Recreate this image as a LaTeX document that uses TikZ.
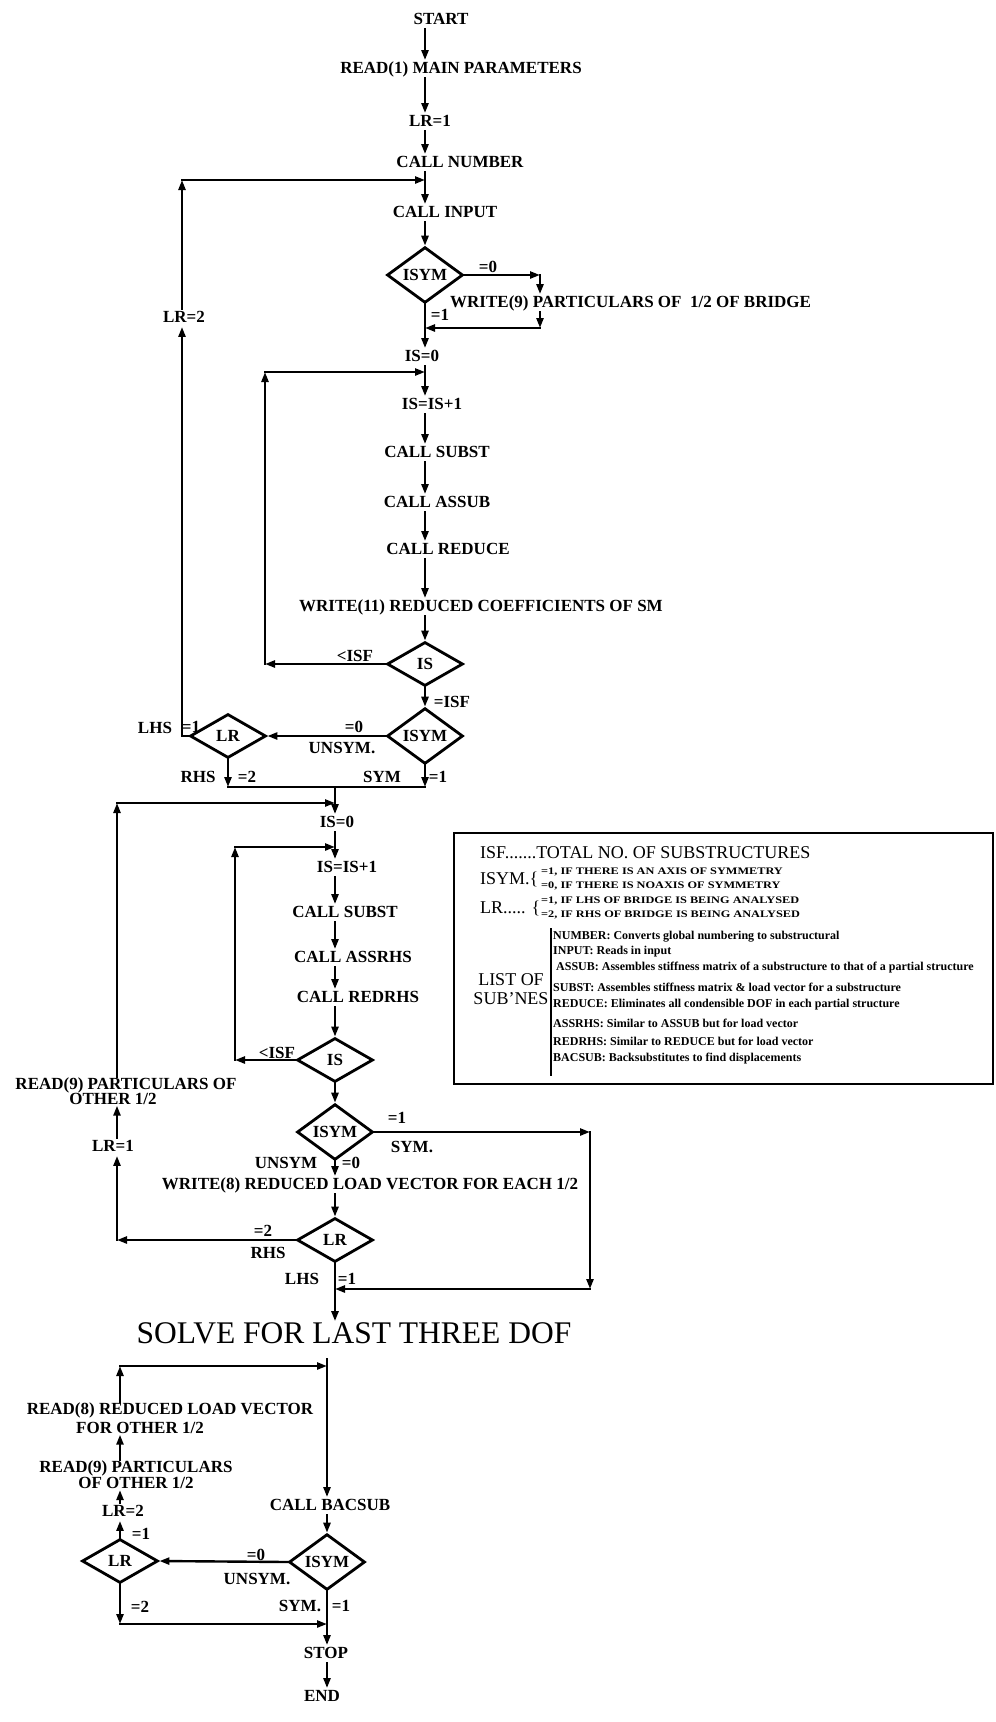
\documentclass[tikz,border=0pt]{standalone}
\usepackage{fontspec}
\setmainfont{Liberation Serif}
\newfontfamily\widefont[FakeStretch=1.23]{Liberation Serif}
\usepackage{tikz}
\usetikzlibrary{arrows.meta,positioning,shapes.geometric}
\newcommand{\chartfont}{\fontsize{17}{19}\selectfont\bfseries}
\tikzset{
	arrow/.style={-{Triangle[length=10pt,width=7pt]}, line width=2.4pt, line cap=rect},
	wire/.style={line width=2.4pt, line cap=rect},
	tag/.style={font=\chartfont, inner sep=1pt}
}

\begin{document}
\begin{tikzpicture}[
	x=1pt, y=-1pt,
	flow/.style={font=\chartfont, inner sep=1pt, text height=12pt, text depth=3.5pt},
	flowpair/.style={align=center, inner sep=1pt},
	decision/.style={draw, diamond, line width=2.8pt, minimum width=76pt,
		minimum height=44pt, inner sep=0pt, font=\chartfont},
	legendhead/.style={font=\fontsize{18}{19}\selectfont, inner sep=0pt},
	legendtiny/.style={font=\fontsize{12}{13}\selectfont\bfseries, inner sep=0pt},
	legenddef/.style={font=\widefont\fontsize{10}{11}\selectfont\bfseries, inner sep=0pt},
	]
	
	\path[use as bounding box, fill=white] (0,0) rectangle (996,1722);
	
	%% ── First pass: trunk nodes ─────────────────────────────────────
	\coordinate (T1) at (425,0);
	\node[flow] (start) at (441,20) {START};
	\node[flow] (readmain) at (461,69) {READ(1) MAIN PARAMETERS};
	\node[flow] (lrset) at (430,122) {LR=1};
	\node[flow] (callnum) at (460,163) {CALL NUMBER};
	\node[flow] (callinp) at (445,213) {CALL INPUT};
	\node[decision] (symA) at (425,275) {ISYM};
	\node[flow, anchor=west] (writenine) at (449,303)
	{WRITE(9) PARTICULARS OF\ \ 1/2 OF BRIDGE};
	\node[flow] (iszeroA) at (422,357) {IS=0};
	\node[flow] (isincA) at (432,405) {IS=IS+1};
	\node[flow] (substA) at (437,453) {CALL SUBST};
	\node[flow] (assub) at (437,503) {CALL ASSUB};
	\node[flow] (reduce) at (448,550) {CALL REDUCE};
	\node[flow] (writeeleven) at (481,607) {WRITE(11) REDUCED COEFFICIENTS OF SM};
	\node[decision] (isA) at (425,664) {IS};
	\node[decision] (symB) at (425,736) {ISYM};
	\node[decision] (lrA) at (228,736) {LR};
	\node[flow] (lrtwo) at (184,318) {LR=2};
	
	%% ── First pass: branch labels ───────────────────────────────────
	\node[tag] (symA-zero) at (488,267) {=0};
	\node[tag] (symA-one) at (440,315) {=1};
	\node[tag] (isA-less) at (355,656) {<ISF};
	\node[tag] (isA-eq) at (452,702) {=ISF};
	\node[tag] (symB-zero) at (354,727) {=0};
	\node[tag] (symB-unsym) at (342,748) {UNSYM.};
	\node[tag] (lrA-lhs) at (155,728) {LHS};
	\node[tag] (lrA-one) at (191,727) {=1};
	\node[tag] (lrA-rhs) at (198,777) {RHS};
	\node[tag] (lrA-two) at (247,777) {=2};
	\node[tag] (symB-sym) at (382,777) {SYM};
	\node[tag] (symB-one) at (438,777) {=1};
	
	%% ── First pass: connectors ──────────────────────────────────────
	\draw[arrow] (start.south -| T1) -- (readmain.north -| T1);
	\draw[arrow] (readmain.south -| T1) -- (lrset.north -| T1);
	\draw[arrow] (lrset.south -| T1) -- (callnum.north -| T1);
	\draw[arrow] (callnum.south -| T1) -- (callinp.north -| T1);
	\draw[arrow] (callinp.south -| T1) -- (symA.north);
	
	\coordinate (byA) at (540,275);
	\coordinate (byB) at (540,328);
	\draw[arrow] (symA.east) -- (byA);
	\draw[arrow] (byA) -- (byA |- writenine.north);
	\draw[arrow] (byA |- writenine.south) -- (byB);
	\draw[arrow] (byB) -- (byB -| T1);
	
	\draw[arrow] (symA.south) -- (iszeroA.north -| T1);
	\draw[arrow] (iszeroA.south -| T1) -- (isincA.north -| T1);
	\draw[arrow] (isincA.south -| T1) -- (substA.north -| T1);
	\draw[arrow] (substA.south -| T1) -- (assub.north -| T1);
	\draw[arrow] (assub.south -| T1) -- (reduce.north -| T1);
	\draw[arrow] (reduce.south -| T1) -- (writeeleven.north -| T1);
	\draw[arrow] (writeeleven.south -| T1) -- (isA.north);
	
	\coordinate (innerA) at (265,372);
	\draw[arrow] (isA.west) -- (isA.west -| innerA);
	\draw[arrow] (isA.west -| innerA) -- (innerA);
	\draw[arrow] (innerA) -- (innerA -| T1);
	
	\draw[arrow] (isA.south) -- (symB.north);
	\draw[arrow] (symB.west) -- (lrA.east);
	
	\coordinate (outerA) at (182,180);
	\draw[wire] (lrA.west) -- (lrA.west -| outerA);
	\draw[arrow] (lrA.west -| outerA) -- (lrtwo.south -| outerA);
	\draw[arrow] (lrtwo.north -| outerA) -- (outerA);
	\draw[arrow] (outerA) -- (outerA -| T1);
	
	\coordinate (mergeA) at (0,787);
	\draw[arrow] (lrA.south) -- (lrA.south |- mergeA);
	\draw[arrow] (symB.south) -- (symB.south |- mergeA);
	\draw[wire] (lrA.south |- mergeA) -- (symB.south |- mergeA);
	
	%% ── Second pass: load vector ────────────────────────────────────
	\coordinate (T2) at (335,0);
	\node[flow] (iszeroB) at (337,823) {IS=0};
	\node[flow] (isincB) at (347,868) {IS=IS+1};
	\node[flow] (substB) at (345,913) {CALL SUBST};
	\node[flow] (assrhs) at (353,958) {CALL ASSRHS};
	\node[flow] (redrhs) at (358,998) {CALL REDRHS};
	\node[decision] (isB) at (335,1060) {IS};
	\node[decision] (symC) at (335,1132) {ISYM};
	\node[flow] (writeeight) at (370,1185) {WRITE(8) REDUCED LOAD VECTOR FOR EACH 1/2};
	\node[decision] (lrB) at (335,1240) {LR};
	\node[flowpair, font=\fontsize{17}{15}\selectfont\bfseries] (readnine) at (126,1091)
	{READ(9) PARTICULARS OF\\OTHER 1/2\hspace*{26pt}};
	\node[flow] (lrsetB) at (113,1147) {LR=1};
	
	\node[tag] (isB-less) at (277,1053) {<ISF};
	\node[tag] (symC-one) at (397,1118) {=1};
	\node[tag] (symC-sym) at (412,1147) {SYM.};
	\node[tag] (symC-unsym) at (286,1163) {UNSYM};
	\node[tag] (symC-zero) at (351,1163) {=0};
	\node[tag] (lrB-two) at (263,1231) {=2};
	\node[tag] (lrB-rhs) at (268,1253) {RHS};
	\node[tag] (lrB-lhs) at (302,1279) {LHS};
	\node[tag] (lrB-one) at (347,1279) {=1};
	
	\node[font=\fontsize{31.5}{34}\selectfont, inner sep=1pt] (solve) at (354,1333)
	{SOLVE FOR LAST THREE DOF};
	
	\draw[arrow] (T2 |- mergeA) -- (iszeroB.north -| T2);
	\draw[arrow] (iszeroB.south -| T2) -- (isincB.north -| T2);
	\draw[arrow] (isincB.south -| T2) -- (substB.north -| T2);
	\draw[arrow] (substB.south -| T2) -- (assrhs.north -| T2);
	\draw[arrow] (assrhs.south -| T2) -- (redrhs.north -| T2);
	\draw[arrow] (redrhs.south -| T2) -- (isB.north);
	
	\coordinate (innerB) at (235,847);
	\draw[arrow] (isB.west) -- (isB.west -| innerB);
	\draw[arrow] (isB.west -| innerB) -- (innerB);
	\draw[arrow] (innerB) -- (innerB -| T2);
	
	\draw[arrow] (isB.south) -- (symC.north);
	\coordinate (byC) at (590,1132);
	\coordinate (byD) at (590,1289);
	\draw[arrow] (symC.east) -- (byC);
	\draw[arrow] (byC) -- (byD);
	\draw[arrow] (byD) -- (byD -| T2);
	\draw[arrow] (symC.south) -- (writeeight.north -| T2);
	\draw[arrow] (writeeight.south -| T2) -- (lrB.north);
	
	\coordinate (outerB) at (117,803);
	\draw[arrow] (lrB.west) -- (lrB.west -| outerB);
	\draw[arrow] (lrB.west -| outerB) -- (lrsetB.south -| outerB);
	\draw[arrow] (lrsetB.north -| outerB) -- (readnine.south -| outerB);
	\draw[arrow] (readnine.north -| outerB) -- (outerB);
	\draw[arrow] (outerB) -- (outerB -| T2);
	\draw[arrow] (lrB.south) -- (solve.north -| T2);
	
	%% ── Back substitution ───────────────────────────────────────────
	\coordinate (T3) at (327,0);
	\coordinate (T4) at (120,0);
	\node[flowpair, font=\fontsize{17}{19}\selectfont\bfseries] (readeight) at (170,1418)
	{READ(8) REDUCED LOAD VECTOR\\FOR OTHER 1/2\hspace*{60pt}};
	\node[flowpair, font=\fontsize{17}{14}\selectfont\bfseries] (readnineB) at (136,1475)
	{READ(9) PARTICULARS\\OF OTHER 1/2};
	\node[flow] (lrsetC) at (123,1512) {LR=2};
	\node[flow] (bacsub) at (330,1506) {CALL BACSUB};
	\node[decision] (symD) at (327,1562) {ISYM};
	\node[decision] (lrC) at (120,1561) {LR};
	\node[flow] (stop) at (326,1654) {STOP};
	\node[flow] (finish) at (322,1697) {END};
	
	\node[tag] (lrC-one) at (141,1534) {=1};
	\node[tag] (symD-zero) at (256,1555) {=0};
	\node[tag] (symD-unsym) at (257,1579) {UNSYM.};
	\node[tag] (lrC-two) at (140,1607) {=2};
	\node[tag] (symD-sym) at (300,1606) {SYM.};
	\node[tag] (symD-one) at (341,1606) {=1};
	
	\coordinate (topC) at (120,1366);
	\coordinate (botC) at (120,1624);
	\draw[arrow] ([yshift=-14pt]solve.south -| T3) -- (bacsub.north -| T3);
	\draw[arrow] (readeight.north -| T4) -- (topC);
	\draw[arrow] (topC) -- (topC -| T3);
	\draw[arrow] (readnineB.north -| T4) -- (readeight.south -| T4);
	\draw[arrow] (lrsetC.north -| T4) -- (readnineB.south -| T4);
	\draw[arrow] (lrC.north) -- (lrsetC.south -| T4);
	\draw[arrow] (bacsub.south -| T3) -- (symD.north);
	\draw[arrow] (symD.west) -- (lrC.east);
	\draw[arrow] (lrC.south) -- (botC);
	\draw[arrow] (botC) -- (botC -| T3);
	\draw[arrow] (symD.south) -- (stop.north -| T3);
	\draw[arrow] (stop.south -| T3) -- (finish.north -| T3);
	
	%% ── Legend ──────────────────────────────────────────────────────
	\node[draw, line width=2.6pt, minimum width=539pt, minimum height=251pt,
	inner sep=0pt] (legend) at (723.5,958.5) {};
	\node[legendhead, anchor=west] (isfdef) at (480,853)
	{ISF.......TOTAL NO. OF SUBSTRUCTURES};
	\node[legendhead, anchor=west] (isymkey) at (480,879) {ISYM.\{};
	\node[legenddef, anchor=west] (isymone) at (541,872)
	{=1, IF THERE IS AN AXIS OF SYMMETRY};
	\node[legenddef, anchor=west] (isymzero) at (541,885.5)
	{=0, IF THERE IS NOAXIS OF SYMMETRY};
	\node[legendhead, anchor=west] (lrkey) at (480,908) {LR..... \{};
	\node[legenddef, anchor=west] (lrone) at (541,901)
	{=1, IF LHS OF BRIDGE IS BEING ANALYSED};
	\node[legenddef, anchor=west] (lrtwodef) at (541,914.5)
	{=2, IF RHS OF BRIDGE IS BEING ANALYSED};
	\node[legendhead, align=center, font=\fontsize{18}{19}\selectfont] (sublist) at (511,989)
	{LIST OF\\SUB'NES};
	
	\coordinate (sepTop) at (551,928);
	\coordinate (sepBot) at (551,1076);
	\draw[line width=2pt] (sepTop) -- (sepBot);
	
	\node[legendtiny, anchor=west] (numdesc) at (553,937)
	{NUMBER: Converts global numbering to substructural};
	\node[legendtiny, anchor=west] (inpdesc) at (553,952)
	{INPUT: Reads in input};
	\node[legendtiny, anchor=west] (assubdesc) at (556,968)
	{ASSUB: Assembles stiffness matrix of a substructure to that of a partial structure};
	\node[legendtiny, anchor=west] (substdesc) at (553,987)
	{SUBST: Assembles stiffness matrix \& load vector for a substructure};
	\node[legendtiny, anchor=west] (reddesc) at (553,1005)
	{REDUCE: Eliminates all condensible DOF in each partial structure};
	\node[legendtiny, anchor=west] (assrhsdesc) at (553,1023)
	{ASSRHS: Similar to ASSUB but for load vector};
	\node[legendtiny, anchor=west] (redrhsdesc) at (553,1041)
	{REDRHS: Similar to REDUCE but for load vector};
	\node[legendtiny, anchor=west] (bacdesc) at (553,1059)
	{BACSUB: Backsubstitutes to find displacements};
	
\end{tikzpicture}
\end{document}
